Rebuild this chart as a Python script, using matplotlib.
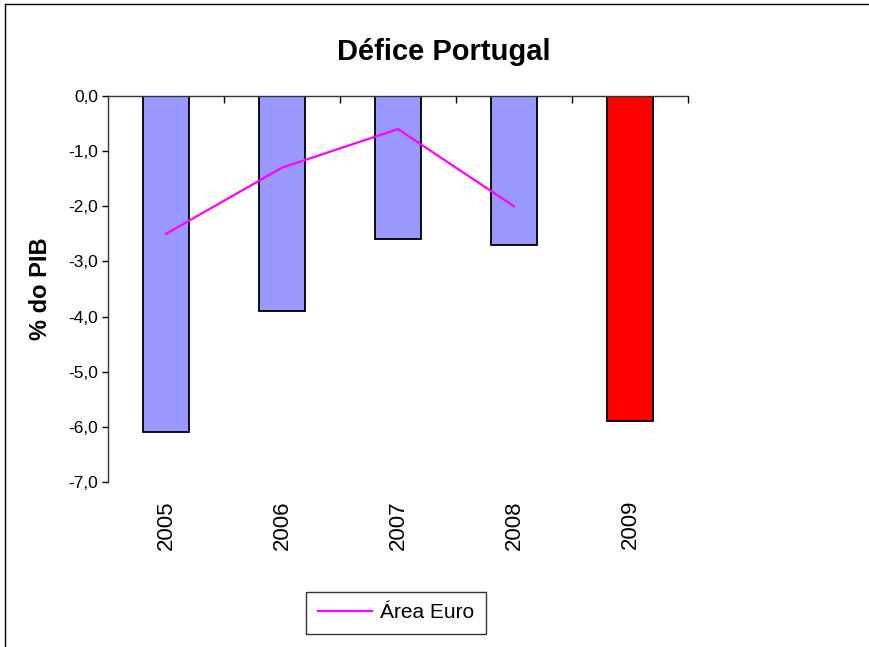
import matplotlib
matplotlib.use("Agg")
import matplotlib.pyplot as plt
from matplotlib.lines import Line2D

plt.rcParams['font.family'] = ['Liberation Sans', 'DejaVu Sans']

# data
years = ['2005', '2006', '2007', '2008', '2009']
defice = [-6.1, -3.9, -2.6, -2.7, -5.9]
bar_colors = ['#9999FF', '#9999FF', '#9999FF', '#9999FF', '#FF0000']
euro_years = ['2005', '2006', '2007', '2008']
area_euro = [-2.5, -1.3, -0.6, -2.0]
y_ticks = [0, -1, -2, -3, -4, -5, -6, -7]
y_labels = ['0,0', '-1,0', '-2,0', '-3,0', '-4,0', '-5,0', '-6,0', '-7,0']

fig = plt.figure(figsize=(8.7, 6.47), dpi=100)
ax = fig.add_axes([108/870, 1-482/647, 580/870, 386/647])

x = list(range(len(years)))
ax.bar(x, defice, width=0.4, color=bar_colors, edgecolor='black', linewidth=1.3, zorder=2)
xe = [years.index(y) for y in euro_years]
line, = ax.plot(xe, area_euro, color='#FF00FF', linewidth=1.6, zorder=3, label='Área Euro')

ax.set_xlim(-0.5, len(years) - 0.5)
ax.set_ylim(-7, 0)
ax.set_yticks(y_ticks)
ax.set_yticklabels(y_labels, fontsize=12.5)
ax.set_ylabel('% do PIB', fontsize=17, fontweight='bold', labelpad=12)

ax.set_xticks(x)
ax.set_xticklabels(years, rotation=90, fontsize=16)
ax.set_xticks([i + 0.5 for i in x], minor=True)
ax.tick_params(axis='x', which='major', length=0, pad=13)
ax.tick_params(axis='x', which='minor', bottom=False, top=True, direction='in', length=5, width=1)
ax.tick_params(axis='y', direction='out', length=4, width=1, pad=3)

for s in ['bottom', 'right']:
    ax.spines[s].set_visible(False)
for s in ['left', 'top']:
    ax.spines[s].set_linewidth(1)
    ax.spines[s].set_color('#333333')

fig.text(444/870, 1-52/647, 'Défice Portugal', fontsize=21, fontweight='bold',
         ha='center', va='center')

leg = fig.legend(handles=[line], loc='center', bbox_to_anchor=(396/870, 1-613/647),
                 fontsize=15, frameon=True, fancybox=False, handlelength=2.6,
                 handletextpad=0.4, borderpad=0.55, borderaxespad=0)
leg.get_frame().set_edgecolor('black')
leg.get_frame().set_linewidth(1)

# chart border
fig.add_artist(Line2D([5/870, 5/870], [0, 1-4/647], transform=fig.transFigure, color='black', linewidth=1))
fig.add_artist(Line2D([5/870, 1], [1-4/647, 1-4/647], transform=fig.transFigure, color='black', linewidth=1))

fig.savefig('out.png', dpi=100)
